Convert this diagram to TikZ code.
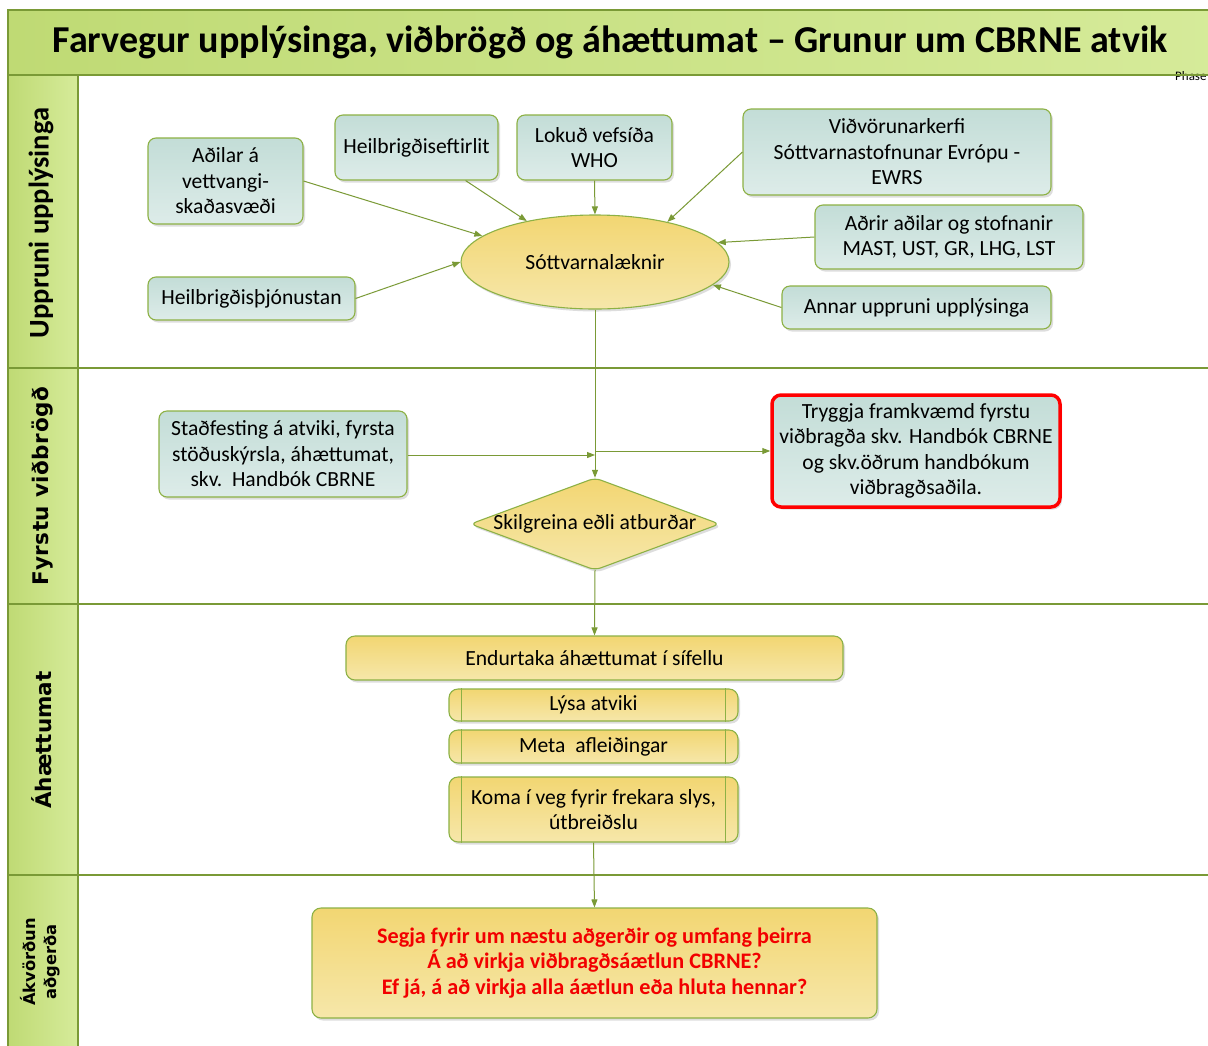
\documentclass[tikz,border=0pt]{standalone}
\usepackage{fontspec}
\setmainfont{Carlito}
\newfontfamily\lanefont{DejaVu Sans}
\newfontfamily\lanefontwide[LetterSpace=2.5]{DejaVu Sans}
\usetikzlibrary{shapes.geometric,arrows.meta,shadows,calc}
\definecolor{lineol}{HTML}{7A9A36}
\definecolor{laneA}{HTML}{BFDA74}
\definecolor{laneB}{HTML}{D6EB9A}
\definecolor{tealA}{HTML}{C3DDD7}
\definecolor{tealB}{HTML}{DDECE9}
\definecolor{boxbd}{HTML}{8DB145}
\definecolor{yelA}{HTML}{F2D672}
\definecolor{yelB}{HTML}{F6E7AA}
\definecolor{redtxt}{HTML}{F20000}
\tikzset{
  shad/.style={drop shadow={shadow xshift=2pt,shadow yshift=-2.5pt,opacity=0.22,fill=black!60}},
  tealbox/.style={shad,draw=boxbd,line width=1.1pt,rounded corners=8pt,top color=tealA,bottom color=tealB,
     align=center,inner sep=0pt,font=\fontsize{21.6}{25.5}\selectfont},
  yelbox/.style={shad,draw=boxbd,line width=1.1pt,rounded corners=9pt,top color=yelA,bottom color=yelB,
     align=center,inner sep=0pt,font=\fontsize{21.6}{25.5}\selectfont},
  conn/.style={draw=lineol,line width=1pt,-{Triangle[length=8pt,width=6pt]}},
  lanebox/.style={draw=lineol,line width=1.4pt,left color=laneA,right color=laneB},
  lanelabel/.style={rotate=90,align=center,inner sep=0pt},
}
\begin{document}
\begin{tikzpicture}[x=1pt,y=-1pt]
\useasboundingbox (0,0) rectangle (1208,1045);
\fill[white] (0,0) rectangle (1208,1045);
% title band
\path[lanebox] (8,10) rectangle (1230,75);
\node[font=\fontsize{38}{44}\selectfont\bfseries,inner sep=0pt] (title) at (610,42) {Farvegur upplýsinga, viðbrögð og áhættumat – Grunur um CBRNE atvik};
\node[font=\fontsize{13}{15}\selectfont,anchor=west,inner sep=0pt] (phase) at (1175,76) {Phase};
% lanes
\path[lanebox] (8,75) rectangle (78,368);
\path[lanebox] (8,368) rectangle (78,604);
\path[lanebox] (8,604) rectangle (78,875);
\path[lanebox] (8,875) rectangle (78,1060);
\draw[lineol,line width=1.4pt] (78,75) -- (1230,75);
\draw[lineol,line width=1.4pt] (78,368) -- (1230,368);
\draw[lineol,line width=1.4pt] (78,604) -- (1230,604);
\draw[lineol,line width=1.4pt] (78,875) -- (1230,875);
\node[lanelabel,font=\fontsize{28.5}{32}\selectfont\bfseries] (l1) at (41,223) {Uppruni upplýsinga};
\node[lanelabel,font=\lanefontwide\fontsize{21.5}{25}\selectfont\bfseries] (l2) at (42,486) {Fyrstu viðbrögð};
\node[lanelabel,font=\lanefont\fontsize{21.5}{25}\selectfont\bfseries] (l3) at (42,740) {Áhættumat};
\node[lanelabel,font=\lanefont\fontsize{16.3}{21}\selectfont\bfseries] (l4) at (40,962) {Ákvörðun\\aðgerða};
% sources
\node[tealbox,minimum width=155pt,minimum height=86pt] (adilar) at (225.5,181) {Aðilar á\\vettvangi-\\skaðasvæði};
\node[tealbox,minimum width=163pt,minimum height=65pt] (heft) at (416.5,147.5) {Heilbrigðiseftirlit};
\node[tealbox,minimum width=155pt,minimum height=65pt] (who) at (594.5,147.5) {Lokuð vefsíða\\WHO};
\node[tealbox,minimum width=308pt,minimum height=86pt] (ewrs) at (897,152) {Viðvörunarkerfi\\Sóttvarnastofnunar Evrópu -\\EWRS};
\node[tealbox,minimum width=268pt,minimum height=64pt] (adrir) at (949,237) {Aðrir aðilar og stofnanir\\MAST, UST, GR, LHG, LST};
\node[tealbox,minimum width=269pt,minimum height=43pt] (annar) at (916.5,307.5) {Annar uppruni upplýsinga};
\node[tealbox,minimum width=207pt,minimum height=43pt] (hthj) at (251.5,298.5) {Heilbrigðisþjónustan};
\node[shad,ellipse,draw=boxbd,line width=1.1pt,top color=yelA,bottom color=yelB,minimum width=268pt,minimum height=94pt,inner sep=0pt,font=\fontsize{21.6}{25.5}\selectfont] (sott) at (595,262) {Sóttvarnalæknir};
\path[conn] (adilar.east) -- (sott.167);
\path[conn] (heft.south east) ++(-33,0) coordinate (hs) (hs) -- (sott.149);
\path[conn] (who.south) -- (sott.north);
\path[conn] (ewrs.west) -- (sott.29);
\path[conn] (adrir.west) -- (sott.9);
\path[conn] (annar.west) -- (sott.-11);
\path[conn] (hthj.east) -- (sott.180);
% first response
\node[tealbox,minimum width=248pt,minimum height=86pt] (stadf) at (283,454) {Staðfesting á atviki, fyrsta\\stöðuskýrsla, áhættumat,\\skv.\ \ Handbók CBRNE};
\node[shad,draw=red,line width=3.5pt,rounded corners=9pt,top color=tealA,bottom color=tealB,align=center,inner sep=0pt,font=\fontsize{21.6}{25.5}\selectfont,minimum width=288pt,minimum height=112pt] (tryggja) at (916,451) {Tryggja framkvæmd fyrstu\\viðbragða skv. Handbók CBRNE\\og skv.öðrum handbókum\\viðbragðsaðila.};
\path[shad,draw=boxbd,line width=1.1pt,top color=yelA,bottom color=yelB,rounded corners=6pt] (595,478) -- (719.5,524) -- (595,570) -- (470.5,524) -- cycle;
\node[minimum width=249pt,minimum height=92pt,inner sep=0pt,font=\fontsize{21.6}{25.5}\selectfont] (dia) at (595,524) {Skilgreina eðli atburðar};
\coordinate (j1) at (595,455);
\coordinate (j2) at (595,451);
\path[conn] (sott.south) -- (dia.north);
\path[conn] (stadf.east |- j1) -- (j1);
\path[conn] (j2) -- (tryggja.west |- j2);
% risk assessment
\node[yelbox,minimum width=497pt,minimum height=44pt] (endurt) at (594.5,658) {Endurtaka áhættumat í sífellu};
\node[yelbox,minimum width=289pt,minimum height=32pt] (lysa) at (593.5,705) {Lýsa atviki};
\node[yelbox,minimum width=289pt,minimum height=33pt] (meta) at (593.5,746.5) {Meta\ \ afleiðingar};
\node[yelbox,minimum width=289pt,minimum height=65pt] (koma) at (593.5,809.5) {Koma í veg fyrir frekara slys,\\útbreiðslu};
\foreach \n in {lysa,meta,koma}{
  \draw[boxbd,line width=1.1pt] ($(\n.north west)+(13,0)$) -- ($(\n.south west)+(13,0)$);
  \draw[boxbd,line width=1.1pt] ($(\n.north east)+(-13,0)$) -- ($(\n.south east)+(-13,0)$);
}
\path[conn] (dia.south) -- (endurt.north);
% decision
\node[yelbox,minimum width=565pt,minimum height=110pt,text=redtxt,font=\fontsize{22.2}{25.5}\selectfont\bfseries] (segja) at (594.5,963) {Segja fyrir um næstu aðgerðir og umfang þeirra\\Á að virkja viðbragðsáætlun CBRNE?\\Ef já, á að virkja alla áætlun eða hluta hennar?};
\path[conn] (koma.south) -- (segja.north);
\end{tikzpicture}
\end{document}
